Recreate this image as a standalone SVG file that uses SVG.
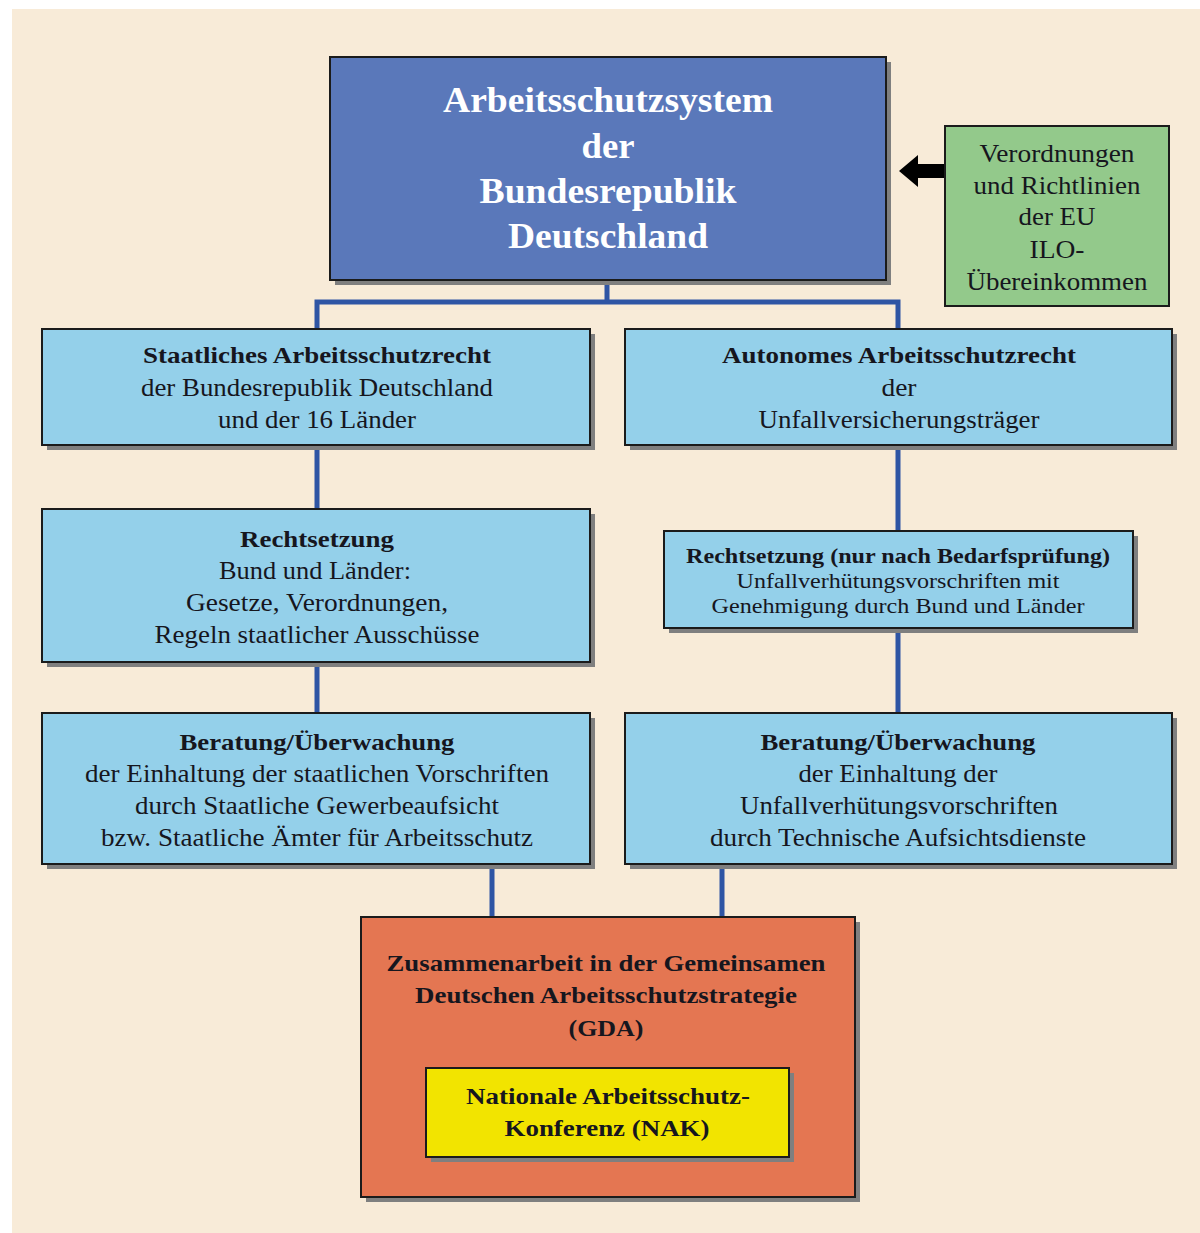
<svg xmlns="http://www.w3.org/2000/svg" width="1200" height="1233" viewBox="0 0 1200 1233">
<style>
.t{font-family:"Liberation Serif","Times New Roman",serif;fill:#16161e;text-anchor:middle}
.b{font-weight:bold}
.w{fill:#ffffff}
.box{stroke:#1b1b1b;stroke-width:2}
.sh{fill:#7f7f7f}
.con{stroke:#2f55a4;stroke-width:5;fill:none}
</style>
<rect x="0" y="0" width="1200" height="1233" fill="#ffffff"/>
<rect x="12" y="9" width="1188" height="1224" fill="#f8ebd8"/>
<g id="connectors">
<path class="con" d="M607 280V302M317 329V302H898V329"/>
<path class="con" d="M317 445V509M317 662V713M898 445V531M898 628V713M492 864V917M722 864V917"/>
<path d="M945 164H918V155L899 171L918 187V178H945Z" fill="#000"/>
</g>
<g id="top">
<rect class="sh" x="335" y="62" width="556" height="223"/>
<rect class="box" x="330" y="57" width="556" height="223" fill="#5a78ba"/>
<g class="t b w" font-size="35" lengthAdjust="spacingAndGlyphs">
<text class="t b w" x="608" y="112" textLength="330" lengthAdjust="spacingAndGlyphs">Arbeitsschutzsystem</text>
<text class="t b w" x="608" y="158" textLength="53" lengthAdjust="spacingAndGlyphs">der</text>
<text class="t b w" x="608" y="203" textLength="257" lengthAdjust="spacingAndGlyphs">Bundesrepublik</text>
<text class="t b w" x="608" y="248" textLength="200" lengthAdjust="spacingAndGlyphs">Deutschland</text>
</g>
</g>
<g id="eu" font-size="25">
<rect class="box" x="945" y="126" width="224" height="180" fill="#93c98b"/>
<text class="t" x="1057" y="162" textLength="155" lengthAdjust="spacingAndGlyphs">Verordnungen</text>
<text class="t" x="1057" y="194" textLength="167" lengthAdjust="spacingAndGlyphs">und Richtlinien</text>
<text class="t" x="1057" y="225" textLength="77" lengthAdjust="spacingAndGlyphs">der EU</text>
<text class="t" x="1057" y="258" textLength="55" lengthAdjust="spacingAndGlyphs">ILO-</text>
<text class="t" x="1057" y="290" textLength="181" lengthAdjust="spacingAndGlyphs">Übereinkommen</text>
</g>
<g id="staat" font-size="25">
<rect class="sh" x="47" y="334" width="548" height="116"/>
<rect class="box" x="42" y="329" width="548" height="116" fill="#94d0ea"/>
<text class="t b" x="317" y="363" font-size="24" textLength="348" lengthAdjust="spacingAndGlyphs">Staatliches Arbeitsschutzrecht</text>
<text class="t" x="317" y="396" textLength="352" lengthAdjust="spacingAndGlyphs">der Bundesrepublik Deutschland</text>
<text class="t" x="317" y="428" textLength="198" lengthAdjust="spacingAndGlyphs">und der 16 Länder</text>
</g>
<g id="autonom" font-size="25">
<rect class="sh" x="630" y="334" width="547" height="116"/>
<rect class="box" x="625" y="329" width="547" height="116" fill="#94d0ea"/>
<text class="t b" x="899" y="363" font-size="24" textLength="354" lengthAdjust="spacingAndGlyphs">Autonomes Arbeitsschutzrecht</text>
<text class="t" x="899" y="396" textLength="35" lengthAdjust="spacingAndGlyphs">der</text>
<text class="t" x="899" y="428" textLength="281" lengthAdjust="spacingAndGlyphs">Unfallversicherungsträger</text>
</g>
<g id="recht-l" font-size="25">
<rect class="sh" x="47" y="514" width="548" height="153"/>
<rect class="box" x="42" y="509" width="548" height="153" fill="#94d0ea"/>
<text class="t b" x="317" y="547" font-size="24" textLength="154" lengthAdjust="spacingAndGlyphs">Rechtsetzung</text>
<text class="t" x="315" y="579" textLength="192" lengthAdjust="spacingAndGlyphs">Bund und Länder:</text>
<text class="t" x="317" y="611" textLength="262" lengthAdjust="spacingAndGlyphs">Gesetze, Verordnungen,</text>
<text class="t" x="317" y="643" textLength="325" lengthAdjust="spacingAndGlyphs">Regeln staatlicher Ausschüsse</text>
</g>
<g id="recht-r" font-size="22">
<rect class="sh" x="669" y="536" width="469" height="97"/>
<rect class="box" x="664" y="531" width="469" height="97" fill="#94d0ea"/>
<text class="t b" x="898" y="563" textLength="424" lengthAdjust="spacingAndGlyphs">Rechtsetzung (nur nach Bedarfsprüfung)</text>
<text class="t" x="898" y="588" textLength="323" lengthAdjust="spacingAndGlyphs">Unfallverhütungsvorschriften mit</text>
<text class="t" x="898" y="613" textLength="373" lengthAdjust="spacingAndGlyphs">Genehmigung durch Bund und Länder</text>
</g>
<g id="berat-l" font-size="25">
<rect class="sh" x="47" y="718" width="548" height="151"/>
<rect class="box" x="42" y="713" width="548" height="151" fill="#94d0ea"/>
<text class="t b" x="317" y="750" font-size="24" textLength="275" lengthAdjust="spacingAndGlyphs">Beratung/Überwachung</text>
<text class="t" x="317" y="782" textLength="464" lengthAdjust="spacingAndGlyphs">der Einhaltung der staatlichen Vorschriften</text>
<text class="t" x="317" y="814" textLength="364" lengthAdjust="spacingAndGlyphs">durch Staatliche Gewerbeaufsicht</text>
<text class="t" x="317" y="846" textLength="432" lengthAdjust="spacingAndGlyphs">bzw. Staatliche Ämter für Arbeitsschutz</text>
</g>
<g id="berat-r" font-size="25">
<rect class="sh" x="630" y="718" width="547" height="151"/>
<rect class="box" x="625" y="713" width="547" height="151" fill="#94d0ea"/>
<text class="t b" x="898" y="750" font-size="24" textLength="275" lengthAdjust="spacingAndGlyphs">Beratung/Überwachung</text>
<text class="t" x="898" y="782" textLength="199" lengthAdjust="spacingAndGlyphs">der Einhaltung der</text>
<text class="t" x="899" y="814" textLength="318" lengthAdjust="spacingAndGlyphs">Unfallverhütungsvorschriften</text>
<text class="t" x="898" y="846" textLength="376" lengthAdjust="spacingAndGlyphs">durch Technische Aufsichtsdienste</text>
</g>
<g id="gda" font-size="24">
<rect class="sh" x="366" y="922" width="494" height="280"/>
<rect class="box" x="361" y="917" width="494" height="280" fill="#e47652"/>
<text class="t b" x="606" y="971" textLength="439" lengthAdjust="spacingAndGlyphs">Zusammenarbeit in der Gemeinsamen</text>
<text class="t b" x="606" y="1003" textLength="382" lengthAdjust="spacingAndGlyphs">Deutschen Arbeitsschutzstrategie</text>
<text class="t b" x="606" y="1036" textLength="75" lengthAdjust="spacingAndGlyphs">(GDA)</text>
</g>
<g id="nak" font-size="24">
<rect class="sh" x="431" y="1073" width="363" height="89"/>
<rect class="box" x="426" y="1068" width="363" height="89" fill="#f2e400"/>
<text class="t b" x="608" y="1104" textLength="284" lengthAdjust="spacingAndGlyphs">Nationale Arbeitsschutz-</text>
<text class="t b" x="607" y="1136" textLength="205" lengthAdjust="spacingAndGlyphs">Konferenz (NAK)</text>
</g>
</svg>
